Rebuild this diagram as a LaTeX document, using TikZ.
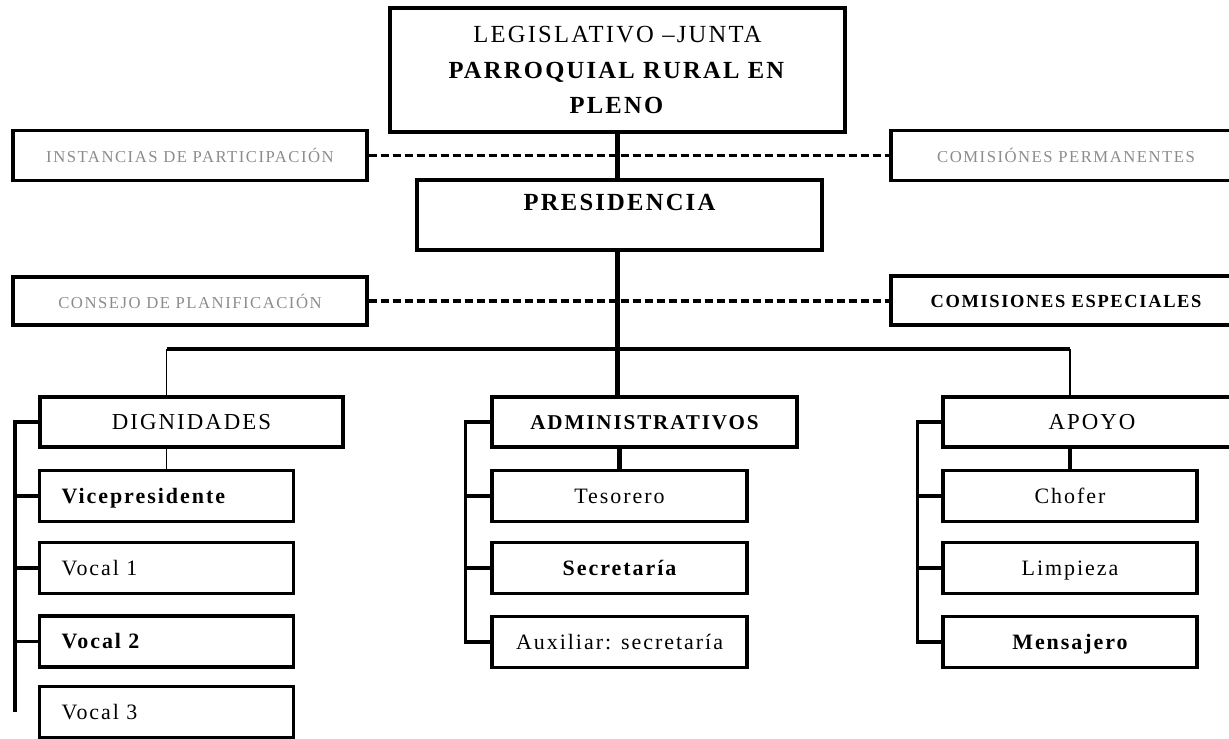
\documentclass[tikz,border=0pt]{standalone}
\usepackage{fontspec}
\setmainfont{Liberation Serif}[LetterSpace=9]
\usepackage{tikz}
\definecolor{paleink}{gray}{0.55}
\tikzset{box/.style={draw, line width=2pt, inner sep=0pt, align=center,
           text height=10pt, text depth=2pt},
         sidebox/.style={box, minimum width=7.08cm, minimum height=1cm,
           text=paleink, font=\fontsize{9.5}{11}\selectfont},
         headbox/.style={box, minimum width=6.06cm, minimum height=1cm,
           font=\fontsize{13}{15}\selectfont},
         itembox/.style={box, minimum width=5.08cm, minimum height=1.02cm,
           font=\fontsize{12.5}{15}\selectfont},
         vocalbox/.style={itembox, text width=4.2cm, align=left},
         trunk/.style={line width=2.3pt},
         stem/.style={line width=1.1pt},
         spine/.style={line width=1.8pt},
         link/.style={line width=2pt, dash pattern=on 0.16cm off 0.08cm}}

\begin{document}
\begin{tikzpicture}[x=0.02cm, y=-0.02cm]
	\useasboundingbox (0,0) rectangle (1229,738);
	\clip (0,0) rectangle (1229,738);

	\node[box, minimum width=9.1cm, minimum height=2.48cm, text height=, text depth=,
	  font=\fontsize{14}{20.4}\selectfont]
	  (leg) at (617.5,70) {LEGISLATIVO –JUNTA\\ \textbf{PARROQUIAL RURAL EN}\\ \textbf{PLENO}};
	\node[sidebox] (inst) at (190,155.5) {INSTANCIAS DE PARTICIPACIÓN};
	\node[sidebox, minimum width=7cm] (perm) at (1066,155.5) {COMISIÓNES PERMANENTES};
	\node[box, minimum width=8.1cm, minimum height=1.4cm, text depth=0.55cm,
	  font=\bfseries\fontsize{14}{16}\selectfont] (pres) at (619.5,215) {PRESIDENCIA};
	\node[sidebox, minimum height=0.96cm] (cons) at (190,301) {CONSEJO DE PLANIFICACIÓN};
	\node[sidebox, minimum width=7cm, minimum height=0.98cm, text=black,
	  font=\bfseries\fontsize{10.5}{12}\selectfont] (esp) at (1066,300.5) {COMISIONES ESPECIALES};

	\node[headbox] (dign) at (191.5,422) {DIGNIDADES};
	\node[headbox, minimum width=6.1cm, font=\bfseries\fontsize{12}{14}\selectfont]
	  (adm) at (644.5,422) {ADMINISTRATIVOS};
	\node[headbox, minimum width=5.96cm] (apo) at (1092,422) {APOYO};

	\node[vocalbox, font=\bfseries\fontsize{12.5}{15}\selectfont] (vice) at (166.5,496) {Vicepresidente};
	\node[vocalbox] (voc1) at (166.5,568) {Vocal 1};
	\node[vocalbox, font=\bfseries\fontsize{12.5}{15}\selectfont] (voc2) at (166.5,641.5) {Vocal 2};
	\node[vocalbox] (voc3) at (166.5,712) {Vocal 3};

	\node[itembox, minimum width=5.1cm] (teso) at (619.5,496) {Tesorero};
	\node[itembox, minimum width=5.1cm, font=\bfseries\fontsize{12.5}{15}\selectfont] (secr) at (619.5,568) {Secretaría};
	\node[itembox, minimum width=5.1cm] (aux) at (619.5,642) {Auxiliar: secretaría};

	\node[itembox] (chof) at (1070,496) {Chofer};
	\node[itembox] (limp) at (1070,568) {Limpieza};
	\node[itembox, font=\bfseries\fontsize{12.5}{15}\selectfont] (mens) at (1070,642) {Mensajero};

	\draw[link] (inst.east) -- (perm.west);
	\draw[link] (cons.east) -- (cons.east -| esp.west);
	\draw[trunk] (leg.south) -- (leg.south |- pres.north);
	\draw[trunk] (pres.south -| leg.south) -- (adm.north -| leg.south);

	\coordinate (bus) at (618,349);
	\draw[trunk] (vice.north |- bus) -- (chof.north |- bus);
	\draw[stem] (vice.north |- bus) -- (vice.north |- dign.north);
	\draw[stem] (chof.north |- bus) -- (chof.north |- apo.north);
	\draw[stem] (vice.north |- dign.south) -- (vice.north);
	\draw[trunk] (teso.north |- adm.south) -- (teso.north);
	\draw[spine] (chof.north |- apo.south) -- (chof.north);

	\coordinate (dend) at (15,712);
	\draw[spine] (dign.west) -| (dend);
	\draw[spine] (adm.west) -- ++(-25,0) |- (aux.west);
	\draw[spine] (apo.west) -- ++(-24,0) |- (mens.west);
	\foreach \n in {vice,voc1,voc2} \draw[spine] (\n.west) -- (\n.west -| dend);
	\foreach \n in {teso,secr} \draw[spine] (\n.west) -- ++(-25,0);
	\foreach \n in {chof,limp} \draw[spine] (\n.west) -- ++(-24,0);
\end{tikzpicture}
\end{document}
